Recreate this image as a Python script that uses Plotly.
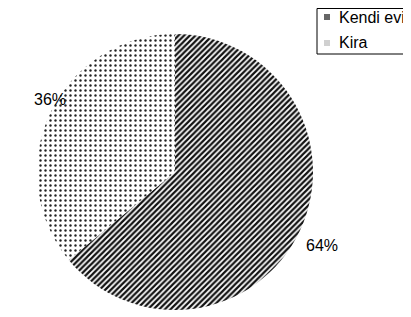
import plotly.graph_objects as go

labels = ["Kendi evi", "Kira"]
values = [64, 36]
text_labels = ["64%", "36%"]

FONT = "Liberation Sans, Arial, sans-serif"
W, H = 411, 317
OX, OY = 8, 8  # page body margin offset compensation


def px(x):
    return (x - OX) / W


def py(y):
    return 1 - (y - OY) / H


# pie geometry (target window pixels)
CX, CY, R = 175, 172, 138

fig = go.Figure(go.Pie(
    labels=labels,
    values=values,
    textinfo="none",
    sort=False,
    direction="clockwise",
    rotation=0,
    hole=0,
    showlegend=False,
    marker=dict(
        colors=["white", "white"],
        line=dict(color="rgba(0,0,0,0)", width=0),
        pattern=dict(
            shape=["/", "."],
            size=[4, 5],
            solidity=[0.55, 0.18],
            fgcolor=["#111111", "#222222"],
            bgcolor=["white", "white"],
        ),
    ),
    domain=dict(x=[px(CX - R), px(CX + R)], y=[py(CY + R), py(CY - R)]),
))

# percentage labels placed outside the slices
label_pos = [(322, 245), (50, 100)]
for t, (lx, ly) in zip(text_labels, label_pos):
    fig.add_annotation(x=px(lx), y=py(ly), xref="paper", yref="paper", text=t,
                       showarrow=False, xanchor="center", yanchor="middle",
                       font=dict(family=FONT, size=16, color="black"))

# manual legend box (right border runs off the image as in the reference)
fig.add_shape(type="rect", xref="paper", yref="paper",
              x0=px(317), x1=1.05, y0=py(54), y1=py(8.5),
              line=dict(color="black", width=1), fillcolor="white", layer="above")
sym_colors = ["#666666", "#d0d0d0"]
rows_y = [17, 43]
for lab, c, ry in zip(labels, sym_colors, rows_y):
    fig.add_shape(type="rect", xref="paper", yref="paper",
                  x0=px(324), x1=px(330), y0=py(ry + 3), y1=py(ry - 3),
                  line=dict(width=0), fillcolor=c, layer="above")
    fig.add_annotation(x=px(337), y=py(ry), xref="paper", yref="paper",
                       text=lab, showarrow=False, xanchor="left", yanchor="middle",
                       font=dict(family=FONT, size=16, color="black"))

fig.update_layout(
    width=W, height=H,
    margin=dict(l=0, r=0, t=0, b=0),
    paper_bgcolor="white",
    plot_bgcolor="white",
    showlegend=False,
)

fig.write_html("out.html")
